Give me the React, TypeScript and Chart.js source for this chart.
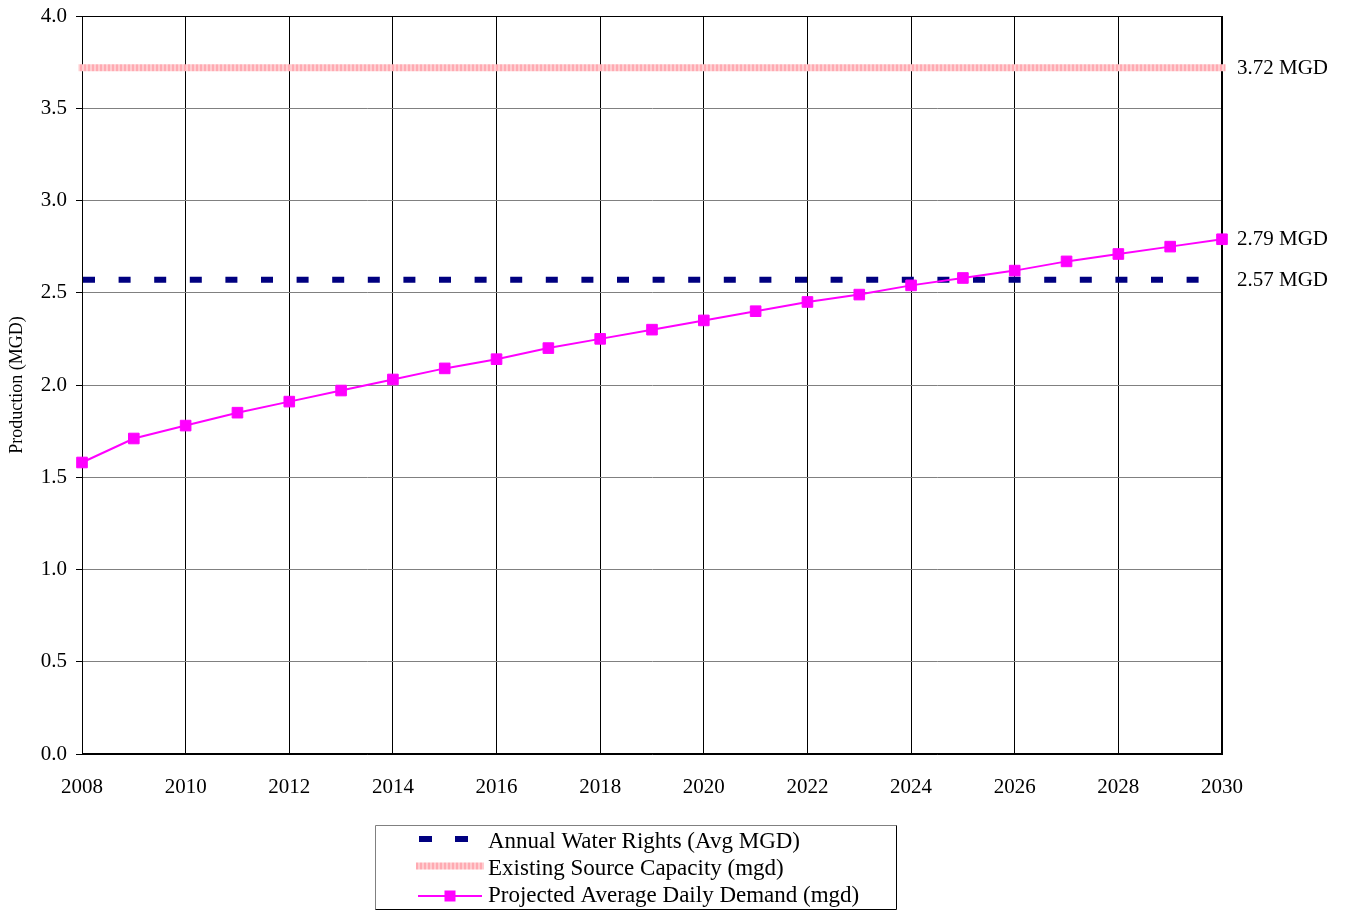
import React, { useEffect, useRef } from "react";
import { Chart, registerables } from "chart.js";

Chart.register(...registerables);

// ---- data ----
const years = [
  2008, 2009, 2010, 2011, 2012, 2013, 2014, 2015, 2016, 2017, 2018, 2019,
  2020, 2021, 2022, 2023, 2024, 2025, 2026, 2027, 2028, 2029, 2030,
];
const projectedDemand = [
  1.58, 1.71, 1.78, 1.85, 1.91, 1.97, 2.03, 2.09, 2.14, 2.2, 2.25, 2.3,
  2.35, 2.4, 2.45, 2.49, 2.54, 2.58, 2.62, 2.67, 2.71, 2.75, 2.79,
];
const annualWaterRights = 2.57;
const existingSourceCapacity = 3.72;
const seriesLabels = [
  "Annual Water Rights (Avg MGD)",
  "Existing Source Capacity (mgd)",
  "Projected Average Daily Demand (mgd)",
];
const yAxisTitle = "Production (MGD)";
const valueUnit = " MGD";
const xRange = [2008, 2030];
const xStep = 2;
const yRange = [0, 4];
const yStep = 0.5;

const FONT = '"Liberation Serif", "Times New Roman", Times, serif';

function makeStripe(ctx: CanvasRenderingContext2D) {
  const c = document.createElement("canvas");
  c.width = 4;
  c.height = 1;
  const g = c.getContext("2d")!;
  g.fillStyle = "#ffcdd0";
  g.fillRect(0, 0, 4, 1);
  g.fillStyle = "#ffaab2";
  g.fillRect(0, 0, 2, 1);
  return ctx.createPattern(c, "repeat")!;
}

export default function App() {
  const ref = useRef<HTMLCanvasElement>(null);

  useEffect(() => {
    const canvas = ref.current!;
    const ctx = canvas.getContext("2d")!;
    const stripe = makeStripe(ctx);

    const frame = {
      id: "frame",
      beforeDatasetsDraw(chart: any) {
        const { ctx: c, chartArea: a } = chart;
        c.save();
        c.strokeStyle = "#000";
        c.lineWidth = 1;
        c.strokeRect(
          Math.round(a.left) + 0.5,
          Math.round(a.top) + 0.5,
          Math.round(a.right - a.left) - 1,
          Math.round(a.bottom - a.top) - 1
        );
        c.restore();
      },
    };

    const annotate = {
      id: "annotate",
      afterDraw(chart: any) {
        const c: CanvasRenderingContext2D = chart.ctx;
        const a = chart.chartArea;
        const yScale = chart.scales.y;
        c.save();
        // right-hand value labels
        c.font = `21px ${FONT}`;
        c.fillStyle = "#000";
        c.textAlign = "left";
        c.textBaseline = "middle";
        chart.data.datasets.forEach((ds: any) => {
          const last = ds.data[ds.data.length - 1].y;
          const py = yScale.getPixelForValue(last);
          c.fillText(last.toFixed(2) + valueUnit, a.right + 15, py + 0.5);
        });

        // legend box
        const bx = 375.5,
          by = 825.5,
          bw = 521,
          bh = 84;
        c.fillStyle = "#fff";
        c.fillRect(bx, by, bw, bh);
        c.lineWidth = 1;
        c.strokeStyle = "#808080";
        c.beginPath();
        c.moveTo(bx, by + bh);
        c.lineTo(bx, by);
        c.lineTo(bx + bw, by);
        c.stroke();
        c.strokeStyle = "#000";
        c.beginPath();
        c.moveTo(bx + bw, by);
        c.lineTo(bx + bw, by + bh);
        c.lineTo(bx, by + bh);
        c.stroke();

        const rows = [842, 869, 896];
        const ds = chart.data.datasets;
        // row 1: dashed navy
        c.save();
        c.strokeStyle = ds[0].borderColor;
        c.lineWidth = 6;
        c.setLineDash([13, 23]);
        c.beginPath();
        c.moveTo(419, rows[0] - 3);
        c.lineTo(468, rows[0] - 3);
        c.stroke();
        c.restore();
        // row 2: striped pink
        c.save();
        c.strokeStyle = ds[1].borderColor;
        c.lineWidth = 7;
        c.beginPath();
        c.moveTo(416, rows[1] - 3);
        c.lineTo(484, rows[1] - 3);
        c.stroke();
        c.restore();
        // row 3: magenta line + square
        c.save();
        c.strokeStyle = ds[2].borderColor;
        c.lineWidth = 2;
        c.beginPath();
        c.moveTo(418, rows[2]);
        c.lineTo(482, rows[2]);
        c.stroke();
        c.fillStyle = ds[2].backgroundColor;
        c.fillRect(444.5, rows[2] - 5.5, 11, 11);
        c.restore();

        c.font = `23px ${FONT}`;
        c.fillStyle = "#000";
        c.textBaseline = "middle";
        ds.forEach((d: any, i: number) => {
          c.fillText(d.label, 488, rows[i]);
        });
        c.restore();
      },
    };

    const ends = xRange;
    const chart = new Chart(ctx, {
      type: "line",
      data: {
        datasets: [
          {
            label: seriesLabels[0],
            data: ends.map((x) => ({ x, y: annualWaterRights })),
            borderColor: "#000080",
            backgroundColor: "#000080",
            borderWidth: 6,
            borderDash: [12, 23.6],
            borderDashOffset: -1,
            borderCapStyle: "butt",
            pointRadius: 0,
            order: 1,
          },
          {
            label: seriesLabels[1],
            data: ends.map((x) => ({ x, y: existingSourceCapacity })),
            borderColor: stripe as any,
            backgroundColor: stripe as any,
            borderWidth: 7,
            borderCapStyle: "square",
            pointRadius: 0,
            clip: 4,
            order: 2,
          },
          {
            label: seriesLabels[2],
            data: years.map((x, i) => ({ x, y: projectedDemand[i] })),
            borderColor: "#ff00ff",
            backgroundColor: "#ff00ff",
            borderWidth: 2,
            pointStyle: "rect",
            pointRadius: 7.5,
            pointBorderWidth: 1,
            pointBackgroundColor: "#ff00ff",
            pointBorderColor: "#ff00ff",
            tension: 0,
            clip: false,
            order: 0,
          },
        ] as any,
      },
      options: {
        responsive: false,
        animation: false,
        events: [],
        layout: { padding: { left: 0, right: 124, top: 16, bottom: 0 } },
        plugins: {
          legend: { display: false },
          tooltip: { enabled: false },
        },
        scales: {
          x: {
            type: "linear",
            min: xRange[0],
            max: xRange[1],
            ticks: {
              stepSize: xStep,
              callback: (v: any) => String(v),
              font: { family: FONT, size: 21 },
              color: "#000",
              padding: 21,
              maxRotation: 0,
              autoSkip: false,
            },
            grid: { color: "#000", lineWidth: 1, drawTicks: false },
            border: { color: "#000", width: 1 },
            afterFit: (s: any) => {
              s.height = 157;
              s.paddingLeft = 0;
              s.paddingRight = 0;
            },
          },
          y: {
            min: yRange[0],
            max: yRange[1],
            ticks: {
              stepSize: yStep,
              callback: (v: any) => Number(v).toFixed(1),
              font: { family: FONT, size: 21 },
              color: "#000",
              padding: 9,
            },
            grid: { color: "#808080", tickColor: "#000", tickLength: 6, lineWidth: 1 },
            border: { color: "#000", width: 1 },
            title: {
              display: true,
              text: yAxisTitle,
              font: { family: FONT, size: 18 },
              color: "#000",
              padding: { top: 6, bottom: 0 },
            },
            afterFit: (s: any) => {
              s.width = 82;
              s.paddingTop = 0;
              s.paddingBottom = 0;
            },
          },
        },
      } as any,
      plugins: [frame, annotate],
    });
    return () => chart.destroy();
  }, []);

  return (
    <div style={{ position: "fixed", left: 0, top: 0, width: 1346, height: 911, background: "#fff" }}>
      <canvas ref={ref} width={1346} height={911} style={{ display: "block" }} />
    </div>
  );
}
